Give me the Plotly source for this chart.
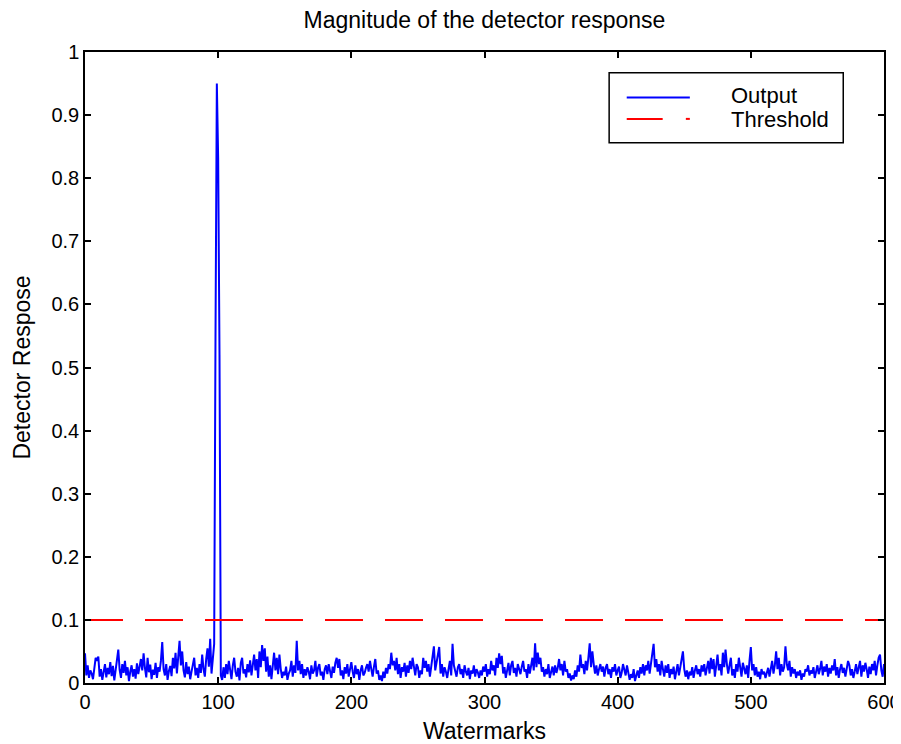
import plotly.graph_objects as go

# Detector response per watermark index 0..600, in thousandths
response_milli = [
    47, 12, 28, 8, 20, 15, 6, 25, 40, 35, 42, 10, 22, 5, 18, 30, 9, 24, 14, 33,
    11, 27, 4, 19, 36, 53, 21, 8, 30, 16, 35, 12, 25, 3, 18, 28, 10, 22, 7, 31,
    14, 26, 38, 20, 47, 24, 9, 40, 17, 29, 6, 21, 13, 32, 8, 25, 18, 35, 65, 22,
    12, 30, 5, 19, 27, 11, 40, 23, 48, 15, 36, 67, 28, 50, 20, 9, 33, 14, 26, 6,
    18, 29, 40, 12, 24, 8, 30, 16, 45, 22, 10, 38, 55, 26, 70, 15, 40, 62, 550, 950,
    830, 520, 12, 5, 25, 8, 30, 14, 35, 20, 6, 28, 40, 18, 10, 24, 4, 32, 40, 15,
    22, 9, 30, 17, 36, 12, 27, 45, 20, 38, 8, 50, 25, 60, 35, 55, 18, 42, 10, 28,
    6, 33, 48, 20, 40, 14, 45, 22, 8, 18, 12, 26, 5, 15, 20, 35, 10, 28, 16, 67,
    20, 35, 14, 30, 8, 22, 12, 25, 18, 6, 28, 15, 20, 35, 10, 24, 30, 12, 18, 5,
    22, 28, 14, 30, 20, 8, 26, 16, 32, 40, 24, 38, 12, 20, 6, 25, 15, 30, 10, 22,
    33, 18, 8, 28, 14, 22, 5, 20, 28, 12, 16, 24, 30, 18, 35, 22, 10, 26, 38, 15,
    20, 5, 12, 3, 18, 8, 24, 15, 30, 22, 48, 28, 35, 20, 40, 14, 30, 8, 25, 18,
    32, 10, 28, 16, 35, 22, 40, 26, 12, 30, 25, 8, 20, 14, 40, 24, 35, 18, 30, 10,
    28, 45, 58, 20, 35, 48, 57, 15, 30, 10, 25, 18, 8, 22, 35, 12, 62, 28, 20, 10,
    25, 30, 14, 22, 8, 28, 18, 12, 24, 6, 20, 15, 28, 10, 22, 17, 8, 20, 12, 26,
    18, 30, 10, 22, 14, 35, 20, 28, 12, 40, 24, 47, 30, 43, 15, 25, 8, 20, 32, 12,
    28, 35, 16, 24, 10, 30, 20, 14, 26, 35, 18, 22, 8, 30, 15, 28, 40, 20, 63, 25,
    48, 30, 40, 18, 25, 10, 22, 14, 30, 8, 20, 26, 12, 28, 16, 24, 38, 20, 30, 12,
    35, 18, 22, 8, 15, 4, 12, 6, 20, 10, 28, 18, 45, 24, 30, 14, 35, 20, 40, 63,
    25, 50, 30, 15, 28, 12, 22, 30, 18, 26, 10, 24, 30, 14, 22, 8, 25, 18, 30, 12,
    20, 26, 8, 16, 30, 22, 12, 28, 18, 5, 14, 8, 22, 3, 12, 20, 8, 25, 15, 30,
    12, 28, 20, 35, 15, 30, 45, 62, 25, 38, 18, 30, 12, 35, 22, 10, 28, 16, 30, 8,
    22, 14, 26, 6, 18, 30, 12, 24, 40, 50, 22, 10, 20, 6, 18, 12, 25, 8, 20, 28,
    14, 22, 10, 28, 18, 30, 12, 24, 35, 15, 40, 22, 38, 10, 28, 45, 20, 30, 12, 48,
    25, 53, 30, 15, 28, 40, 12, 22, 8, 30, 18, 40, 25, 10, 32, 20, 14, 28, 8, 35,
    57, 20, 30, 12, 25, 10, 18, 6, 22, 14, 18, 8, 15, 24, 10, 20, 35, 15, 28, 50,
    22, 40, 12, 30, 18, 25, 58, 30, 20, 35, 10, 25, 15, 22, 8, 18, 12, 20, 5, 15,
    10, 22, 18, 28, 12, 20, 15, 25, 8, 18, 28, 14, 22, 35, 12, 26, 18, 30, 10, 24,
    15, 28, 20, 38, 12, 25, 8, 22, 30, 16, 24, 10, 20, 35, 28, 12, 22, 8, 18, 30,
    14, 25, 35, 10, 28, 18, 32, 22, 8, 26, 14, 30, 20, 35, 12, 28, 40, 45, 20, 10,
    30,
]
watermarks = list(range(len(response_milli)))
response = [v / 1000 for v in response_milli]

threshold_value = 0.1
x_range = [0, 600]
x_ticks = [0, 100, 200, 300, 400, 500, 600]
y_ticks = [0, 0.1, 0.2, 0.3, 0.4, 0.5, 0.6, 0.7, 0.8, 0.9, 1]
y_tick_labels = ["0", "0.1", "0.2", "0.3", "0.4", "0.5", "0.6", "0.7", "0.8", "0.9", "1"]
legend_labels = ["Output", "Threshold"]

FONT = "Liberation Sans, Arial, sans-serif"

fig = go.Figure()
fig.add_trace(go.Scatter(
    x=watermarks, y=response, mode="lines", name=legend_labels[0],
    line=dict(color="#0000ff", width=2), showlegend=False,
))
fig.add_trace(go.Scatter(
    x=x_range, y=[threshold_value, threshold_value], mode="lines", name=legend_labels[1],
    line=dict(color="#ff0000", width=2, dash="38px,22px"), showlegend=False,
))

# Manual MATLAB-style legend box
fig.add_shape(type="rect", xref="paper", yref="paper",
              x0=0.656, x1=0.949, y0=0.856, y1=0.967,
              line=dict(color="black", width=1.5), fillcolor="white", layer="above")
fig.add_shape(type="line", xref="paper", yref="paper",
              x0=0.678, x1=0.757, y0=0.928, y1=0.928,
              line=dict(color="#0000ff", width=2), layer="above")
fig.add_shape(type="line", xref="paper", yref="paper",
              x0=0.678, x1=0.723, y0=0.894, y1=0.894,
              line=dict(color="#ff0000", width=2), layer="above")
fig.add_shape(type="line", xref="paper", yref="paper",
              x0=0.752, x1=0.757, y0=0.894, y1=0.894,
              line=dict(color="#ff0000", width=2), layer="above")
fig.add_annotation(xref="paper", yref="paper", x=0.806, y=0.931, text=legend_labels[0],
                   showarrow=False, xanchor="left", yanchor="middle",
                   font=dict(family=FONT, size=22, color="black"))
fig.add_annotation(xref="paper", yref="paper", x=0.806, y=0.893, text=legend_labels[1],
                   showarrow=False, xanchor="left", yanchor="middle",
                   font=dict(family=FONT, size=22, color="black"))

fig.update_layout(
    width=893, height=736,
    margin=dict(l=77, r=17, t=44, b=61, autoexpand=False),
    paper_bgcolor="white", plot_bgcolor="white",
    font=dict(family=FONT, size=20, color="black"),
    title=dict(text="Magnitude of the detector response", xref="paper", x=0.5,
               xanchor="center", yref="container", y=0.984, yanchor="middle",
               font=dict(family=FONT, size=23)),
    showlegend=False,
)
fig.update_xaxes(
    range=x_range, tickvals=x_ticks, ticks="inside", ticklen=6, tickwidth=1.5,
    tickcolor="black", showline=True, linecolor="black", linewidth=1.5,
    mirror="ticks", showgrid=False, zeroline=False,
    tickfont=dict(family=FONT, size=20),
    title=dict(text="Watermarks", standoff=12, font=dict(family=FONT, size=23)),
)
fig.update_yaxes(
    range=[0, 1], tickvals=y_ticks, ticktext=y_tick_labels, ticks="inside", ticklen=6,
    tickwidth=1.5, tickcolor="black", showline=True, linecolor="black", linewidth=1.5,
    mirror="ticks", showgrid=False, zeroline=False,
    tickfont=dict(family=FONT, size=20),
    title=dict(text="Detector Respose", standoff=14, font=dict(family=FONT, size=23)),
)

fig.write_html("out.html")
